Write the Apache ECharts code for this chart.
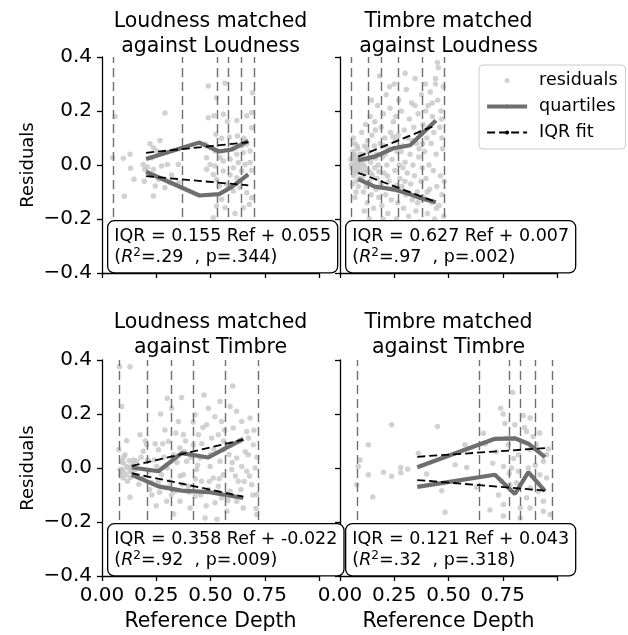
<!DOCTYPE html>
<html>
<head>
<meta charset="utf-8">
<script src="https://cdn.jsdelivr.net/npm/echarts@6/dist/echarts.min.js"></script>
<style>
html, body { margin: 0; padding: 0; background: #ffffff; }
#chart { width: 628px; height: 635px; }
</style>
</head>
<body>
<div id="chart"></div>
<script>
// ---- Panel titles ----
const panelTitles = [
  'Loudness matched\nagainst Loudness',
  'Timbre matched\nagainst Loudness',
  'Loudness matched\nagainst Timbre',
  'Timbre matched\nagainst Timbre'
];

// ---- Axis ticks ----
const xTicks = [0, 0.25, 0.5, 0.75, 1.0];
const yTicks = [-0.4, -0.2, 0.0, 0.2, 0.4];

// ---- Residuals: [reference depth, residual] ----
const tlResiduals = [
  [0.06,0.18],[0.049,0.027],[0.098,0.025],[0.129,0.04],[0.132,-0.012],[0.103,-0.116],
  [0.19,0.002],[0.198,-0.016],[0.147,-0.053],[0.195,-0.06],[0.221,0.079],[0.267,0.091],
  [0.237,0.064],[0.29,0.193],[0.209,-0.007],[0.237,-0.016],[0.246,-0.078],[0.237,-0.115],
  [0.224,-0.037],[0.275,-0.004],[0.301,0.002],[0.321,-0.037],[0.352,0.002],[0.352,-0.065],
  [0.26,-0.053],[0.313,-0.065],[0.29,-0.084],[0.252,0.052],[0.229,0.027],
  [0.49,0.293],[0.567,0.303],[0.694,0.268],[0.528,0.249],[0.49,0.175],[0.516,0.182],
  [0.559,0.188],[0.578,0.161],[0.621,0.165],[0.69,0.194],[0.667,0.182],[0.69,0.138],
  [0.525,0.114],[0.551,0.099],[0.587,0.104],[0.624,0.107],[0.654,0.099],[0.482,0.027],
  [0.498,0.002],[0.521,0.052],[0.544,0.027],[0.559,0.015],[0.59,0.021],[0.621,0.04],
  [0.651,0.046],[0.682,0.052],[0.682,0.009],[0.482,-0.016],[0.513,-0.035],[0.528,-0.053],
  [0.559,-0.022],[0.59,-0.037],[0.621,-0.047],[0.644,-0.022],[0.69,-0.02],[0.541,-0.078],
  [0.575,-0.072],[0.605,-0.096],[0.636,-0.084],[0.667,-0.103],[0.69,-0.121],[0.551,-0.127],
  [0.528,-0.152],[0.567,-0.158],[0.613,-0.18],[0.651,-0.158],[0.679,-0.146],[0.513,-0.195],
  [0.475,0.077],[0.505,0.064],[0.605,0.064],[0.644,0.07],[0.667,0.077],[0.628,0.009],
  [0.659,0.002],[0.605,-0.01],[0.521,-0.004]
];
const trResiduals = [
  [0.05,0.02],[0.055,-0.01],[0.06,0.05],[0.062,-0.04],[0.065,0.0],[0.068,0.08],[0.07,-0.02],
  [0.072,0.03],[0.075,-0.06],[0.078,0.01],[0.08,-0.03],[0.082,0.06],[0.085,-0.08],[0.087,0.02],
  [0.09,-0.01],[0.058,-0.07],[0.066,0.04],[0.074,-0.1],[0.079,0.07],[0.088,-0.05],[0.052,0.0],
  [0.061,0.1],[0.069,-0.12],[0.083,0.0],[0.092,0.04],[0.057,0.03],[0.076,-0.02],[0.064,-0.03],
  [0.10,0.12],[0.102,-0.05],[0.105,0.04],[0.108,-0.1],[0.11,0.0],[0.113,0.07],[0.115,-0.03],
  [0.118,0.15],[0.12,-0.08],[0.123,0.02],[0.126,-0.14],[0.128,0.09],[0.13,-0.02],[0.133,0.05],
  [0.136,-0.06],[0.139,0.18],[0.141,0.01],[0.144,-0.11],[0.147,0.11],[0.15,-0.04],[0.152,0.03],
  [0.155,-0.16],[0.158,0.07],[0.16,-0.01],[0.163,0.13],[0.166,-0.09],[0.168,0.04],[0.171,-0.05],
  [0.174,0.22],[0.176,0.0],[0.178,-0.12],[0.112,-0.17],[0.145,0.24],[0.16,0.16],[0.135,-0.2],
  [0.182,0.33],[0.185,0.08],[0.188,-0.07],[0.19,0.14],[0.193,-0.15],[0.196,0.03],[0.2,0.19],
  [0.203,-0.03],[0.206,0.1],[0.21,-0.11],[0.213,0.26],[0.216,0.0],[0.22,-0.18],[0.223,0.06],
  [0.226,-0.06],[0.23,0.21],[0.233,0.12],[0.236,-0.13],[0.24,0.02],[0.243,-0.09],[0.246,0.16],
  [0.25,0.3],[0.253,-0.02],[0.256,0.09],[0.26,-0.2],[0.263,0.05],[0.266,-0.14],[0.27,0.24],
  [0.273,0.0],[0.276,-0.05],[0.198,-0.2],[0.228,0.29],[0.258,0.18],[0.208,0.04],[0.268,0.11],
  [0.283,0.2],[0.286,-0.08],[0.29,0.07],[0.293,-0.16],[0.296,0.13],[0.3,0.01],[0.303,-0.11],
  [0.306,0.28],[0.31,-0.03],[0.313,0.1],[0.316,-0.19],[0.32,0.17],[0.323,0.04],[0.326,-0.07],
  [0.33,0.23],[0.333,-0.13],[0.336,0.0],[0.34,0.14],[0.343,-0.04],[0.346,0.32],[0.35,-0.17],
  [0.353,0.08],[0.356,-0.1],[0.36,0.19],[0.363,0.03],[0.366,-0.21],[0.37,0.12],[0.373,-0.06],
  [0.376,0.26],[0.379,-0.01],[0.3,0.34],[0.318,-0.22],[0.345,0.22],[0.365,0.06],[0.29,-0.01],
  [0.383,0.15],[0.386,-0.12],[0.39,0.05],[0.393,0.3],[0.396,-0.05],[0.4,0.1],[0.403,-0.18],
  [0.406,0.22],[0.41,0.0],[0.413,-0.09],[0.416,0.27],[0.42,0.08],[0.423,-0.14],[0.426,0.18],
  [0.43,-0.02],[0.433,0.12],[0.436,-0.2],[0.44,0.32],[0.443,0.04],[0.446,-0.08],[0.45,0.24],
  [0.453,0.36],[0.456,-0.15],[0.46,0.14],[0.463,-0.04],[0.466,0.2],[0.47,-0.11],[0.473,0.06],
  [0.476,0.29],[0.48,-0.06],[0.449,0.38],[0.44,0.3],[0.42,-0.22],[0.395,0.2],[0.47,0.1],
  [0.071,0.015],[0.081,-0.012],[0.094,0.008],[0.099,-0.022],[0.104,0.018],[0.117,-0.012],
  [0.125,0.06],[0.142,-0.03],[0.165,0.025],[0.18,-0.025],[0.201,0.07],[0.219,-0.04],
  [0.245,0.105],[0.262,-0.075],[0.281,0.05],[0.299,-0.06],[0.335,0.09],[0.358,-0.14],
  [0.381,0.08],[0.402,-0.1],[0.425,0.23],[0.445,-0.16],[0.468,0.17],[0.478,-0.19]
];
const blResiduals = [
  [0.080,0.375],[0.129,0.375],[0.091,0.228],[0.114,0.101],[0.078,0.068],[0.098,0.018],
  [0.114,0.006],[0.091,-0.006],[0.129,-0.012],[0.098,-0.037],[0.129,-0.108],[0.106,0.049],
  [0.144,0.012],[0.16,0.025],[0.19,0.062],[0.175,0.123],[0.206,0.086],[0.214,-0.012],
  [0.19,-0.037],[0.229,-0.055],[0.252,0.006],[0.275,-0.025],[0.26,0.068],[0.301,0.258],
  [0.321,0.221],[0.29,0.141],[0.306,0.098],[0.329,0.049],[0.313,-0.049],[0.336,-0.086],
  [0.298,-0.123],[0.367,0.261],[0.352,0.172],[0.375,0.123],[0.359,0.074],[0.39,0.025],
  [0.375,-0.025],[0.398,-0.068],[0.359,-0.123],[0.406,-0.148],[0.429,0.197],[0.444,0.123],
  [0.421,0.086],[0.452,0.037],[0.436,-0.006],[0.459,-0.049],[0.429,-0.105],[0.475,-0.185],
  [0.49,0.221],[0.482,0.16],[0.505,0.111],[0.498,0.006],[0.513,-0.037],[0.49,-0.08],
  [0.521,-0.129],[0.544,0.246],[0.551,0.172],[0.536,0.123],[0.559,0.068],[0.544,0.025],
  [0.559,-0.025],[0.536,-0.068],[0.551,-0.111],[0.602,0.304],[0.59,0.228],[0.605,0.148],
  [0.598,0.086],[0.621,0.037],[0.598,-0.006],[0.628,-0.049],[0.59,-0.086],[0.621,-0.123],
  [0.575,-0.16],[0.644,0.172],[0.667,0.135],[0.682,0.185],[0.697,0.086],[0.674,0.049],
  [0.705,0.0],[0.667,-0.012],[0.69,-0.062],[0.713,-0.098],[0.651,-0.148],[0.713,-0.172],
  [0.644,0.006],[0.083,-0.006],[0.098,-0.012],[0.121,0.0],[0.137,0.006],[0.091,0.025],
  [0.111,-0.025],[0.126,0.027],[0.141,-0.015],[0.086,-0.025],[0.117,-0.049],[0.1,0.04],
  [0.132,-0.035],[0.145,0.03],[0.155,-0.005],[0.2,0.1],[0.22,-0.08],[0.24,0.03],[0.26,-0.05],
  [0.28,0.09],[0.3,0.0],[0.32,-0.1],[0.34,0.13],[0.36,-0.03],[0.38,0.06],[0.4,-0.09],
  [0.42,0.17],[0.44,0.01],[0.46,0.09],[0.48,-0.14],[0.5,0.05],[0.52,0.19],[0.54,-0.04],
  [0.56,0.1],[0.58,-0.12],[0.6,0.02],[0.62,0.21],[0.64,-0.08],[0.66,0.06],[0.68,-0.03],
  [0.7,0.14],[0.71,-0.15],[0.25,-0.14],[0.27,0.2],[0.33,-0.17],[0.47,0.27],[0.53,-0.19],
  [0.17,-0.06],[0.18,0.04],[0.21,0.03],[0.23,-0.1],[0.245,0.09],[0.265,-0.09],[0.285,0.04],
  [0.31,-0.07],[0.345,0.02],[0.37,-0.06],[0.385,0.1],[0.41,0.04],[0.43,-0.04],[0.455,-0.1],
  [0.465,0.15],[0.495,-0.05],[0.515,0.07],[0.535,-0.09],[0.565,0.14],[0.585,0.05],
  [0.615,-0.03],[0.635,0.1],[0.655,-0.05],[0.675,0.11],[0.695,-0.1],[0.715,0.04]
];
const brResiduals = [
  [0.084,0.006],[0.077,-0.062],[0.092,0.03],[0.131,-0.025],[0.131,0.086],[0.151,-0.107],
  [0.2,-0.016],[0.238,-0.031],[0.238,0.16],[0.28,0.002],[0.28,-0.018],[0.312,-0.004],
  [0.361,0.055],[0.399,-0.022],[0.449,0.154],[0.469,-0.084],[0.484,-0.164],[0.53,0.012],
  [0.576,0.086],[0.584,0.002],[0.63,-0.071],[0.661,0.129],[0.691,-0.156],[0.704,0.018],
  [0.796,0.28],[0.74,0.221],[0.752,0.2],[0.845,0.194],[0.876,0.185],[0.806,0.16],
  [0.76,0.165],[0.86,0.135],[0.89,0.117],[0.776,0.086],[0.837,0.098],[0.905,0.086],
  [0.876,0.068],[0.822,0.049],[0.952,0.049],[0.937,0.025],[0.753,0.006],[0.791,0.0],
  [0.822,-0.012],[0.868,0.0],[0.921,-0.025],[0.952,-0.037],[0.745,-0.049],[0.783,-0.062],
  [0.814,-0.055],[0.876,-0.074],[0.914,-0.086],[0.937,-0.123],[0.753,-0.135],[0.83,-0.148],
  [0.876,-0.148],[0.937,-0.16],[0.753,-0.178],[0.83,-0.185],[0.968,-0.172],[0.72,0.06],
  [0.768,0.11],[0.8,0.035],[0.85,0.15],[0.9,0.01],[0.96,0.07],[0.73,-0.1],[0.86,-0.11],
  [0.67,0.09],[0.78,-0.02],[0.92,0.13]
];

// ---- Bin edges (vertical dashed lines) ----
const tlEdges = [0.049, 0.37, 0.53, 0.579, 0.639, 0.699];
const trEdges = [0.054, 0.130, 0.192, 0.272, 0.381, 0.481];
const blEdges = [0.080, 0.210, 0.316, 0.418, 0.570, 0.717];
const brEdges = [0.080, 0.637, 0.779, 0.829, 0.899, 0.978];

// ---- Quartile curves ----
const tlQuartX = [0.203, 0.449, 0.54, 0.60, 0.674];
const tlUpperQ = [0.022, 0.083, 0.050, 0.058, 0.089];
const tlLowerQ = [-0.025, -0.113, -0.108, -0.080, -0.035];
const trQuartX = [0.084, 0.160, 0.246, 0.323, 0.376, 0.442];
const trUpperQ = [0.018, 0.031, 0.062, 0.073, 0.114, 0.165];
const trLowerQ = [-0.052, -0.080, -0.090, -0.108, -0.124, -0.138];
const blQuartX = [0.137, 0.26, 0.367, 0.49, 0.651];
const blUpperQ = [0.002, -0.012, 0.055, 0.039, 0.108];
const blLowerQ = [-0.025, -0.068, -0.084, -0.089, -0.111];
const brQuartX = [0.356, 0.714, 0.806, 0.868, 0.945];
const brUpperQ = [0.003, 0.108, 0.110, 0.090, 0.040];
const brLowerQ = [-0.070, -0.025, -0.096, -0.015, -0.086];

// ---- IQR fits: [slope, intercept], centre line at both ends, R^2 and p ----
const tlFit = [0.155, 0.055];
const trFit = [0.627, 0.007];
const blFit = [0.358, -0.022];
const brFit = [0.121, 0.043];
const tlFitCentre = [0.002, 0.0045];
const trFitCentre = [0.001, 0.0055];
const blFitCentre = [-0.0055, -0.0005];
const brFitCentre = [-0.0015, -0.005];
const tlStats = ['.29', '.344'];
const trStats = ['.97', '.002'];
const blStats = ['.92', '.009'];
const brStats = ['.32', '.318'];

// ---------------------------------------------------------------
const FONT = 'DejaVu Sans';
const GREY = '#6e6e6e';
const DOT = '#c6c6c6';

const panels = [
  { res: tlResiduals, edges: tlEdges, qx: tlQuartX, up: tlUpperQ, lo: tlLowerQ, fit: tlFit, centre: tlFitCentre, stats: tlStats },
  { res: trResiduals, edges: trEdges, qx: trQuartX, up: trUpperQ, lo: trLowerQ, fit: trFit, centre: trFitCentre, stats: trStats },
  { res: blResiduals, edges: blEdges, qx: blQuartX, up: blUpperQ, lo: blLowerQ, fit: blFit, centre: blFitCentre, stats: blStats },
  { res: brResiduals, edges: brEdges, qx: brQuartX, up: brUpperQ, lo: brLowerQ, fit: brFit, centre: brFitCentre, stats: brStats }
];

// grid layout (pixels)
const gridLeft = [102, 340, 102, 340];
const gridTop = [57, 57, 360, 360];
const gridW = 217, gridH = 216;

const chart = echarts.init(document.getElementById('chart'), null, { renderer: 'canvas' });

const minus = v => (v < 0 ? '\u2212' : '') + Math.abs(v).toFixed(1);
const xFmt = v => (Math.abs(v - 1) < 1e-9 ? '' : v.toFixed(2));

const grids = [], xAxes = [], yAxes = [], series = [], titles = [], graphics = [];

panels.forEach((p, i) => {
  const bottomRow = i >= 2, leftCol = i % 2 === 0;
  grids.push({ left: gridLeft[i], top: gridTop[i], width: gridW, height: gridH, containLabel: false });

  xAxes.push({
    gridIndex: i, type: 'value', min: xTicks[0], max: xTicks[xTicks.length - 1], interval: 0.25,
    axisLine: { show: true, onZero: false, lineStyle: { color: '#000', width: 1.3 } },
    axisTick: { show: true, inside: false, length: 5, lineStyle: { color: '#000', width: 1.3 } },
    axisLabel: { show: bottomRow, formatter: xFmt, color: '#000', fontFamily: FONT, fontSize: 20, margin: 10 },
    splitLine: { show: false },
    name: bottomRow ? 'Reference Depth' : '', nameLocation: 'middle', nameGap: 35,
    nameTextStyle: { color: '#000', fontFamily: FONT, fontSize: 20.5 }
  });
  yAxes.push({
    gridIndex: i, type: 'value', min: yTicks[0], max: yTicks[yTicks.length - 1], interval: 0.2,
    axisLine: { show: true, onZero: false, lineStyle: { color: '#000', width: 1.3 } },
    axisTick: { show: true, inside: false, length: 5, lineStyle: { color: '#000', width: 1.3 } },
    axisLabel: { show: leftCol, formatter: minus, color: '#000', fontFamily: FONT, fontSize: 20, margin: 10 },
    splitLine: { show: false },
    name: leftCol ? 'Residuals' : '', nameLocation: 'middle', nameGap: 65, nameRotate: 90,
    nameTextStyle: { color: '#000', fontFamily: FONT, fontSize: 18 }
  });

  series.push({
    name: 'residuals', type: 'scatter', xAxisIndex: i, yAxisIndex: i,
    data: p.res, symbol: 'circle', symbolSize: 5.5,
    itemStyle: { color: DOT }, z: 2, silent: true, animation: false,
    markLine: {
      silent: true, symbol: ['none', 'none'], animation: false,
      label: { show: false },
      lineStyle: { type: [9, 5], color: GREY, width: 1.4 },
      emphasis: { disabled: true },
      data: p.edges.map(e => ({ xAxis: e }))
    }
  });
  [p.up, p.lo].forEach(q => {
    series.push({
      name: 'quartiles', type: 'line', xAxisIndex: i, yAxisIndex: i,
      data: p.qx.map((x, k) => [x, q[k]]), symbol: 'none', showSymbol: false,
      itemStyle: { color: GREY }, lineStyle: { color: GREY, width: 4.2 },
      z: 4, silent: true, animation: false
    });
  });
  const x0 = p.qx[0], x1 = p.qx[p.qx.length - 1];
  const iqr0 = p.fit[0] * x0 + p.fit[1], iqr1 = p.fit[0] * x1 + p.fit[1];
  [1, -1].forEach(sgn => {
    series.push({
      name: 'IQR fit', type: 'line', xAxisIndex: i, yAxisIndex: i,
      data: [[x0, p.centre[0] + sgn * iqr0 / 2], [x1, p.centre[1] + sgn * iqr1 / 2]],
      symbol: 'none', showSymbol: false,
      itemStyle: { color: '#000' }, lineStyle: { color: '#000', width: 1.8, type: [8, 4] },
      z: 5, silent: true, animation: false
    });
  });

  titles.push({
    text: panelTitles[i], left: gridLeft[i] + gridW / 2, top: bottomRow ? 310 : 9,
    textAlign: 'center', padding: 0,
    textStyle: { fontFamily: FONT, fontSize: 20.5, fontWeight: 'normal', color: '#000', lineHeight: 25 }
  });

  const sign = p.fit[1] < 0 ? '-' : '';
  graphics.push({
    type: 'text', left: gridLeft[i] + 5, top: gridTop[i] + 163, z: 100 + i,
    style: {
      text: 'IQR = ' + p.fit[0].toFixed(3) + ' Ref + ' + sign + Math.abs(p.fit[1]).toFixed(3) +
            '\n({it|R}{sup|2}=' + p.stats[0] + '  , p=' + p.stats[1] + ')',
      fontFamily: FONT, fontSize: 17.5, lineHeight: 21, fill: '#000',
      backgroundColor: '#fff', borderColor: '#000', borderWidth: 1.3, borderRadius: 6,
      padding: [5, 6, 4, 6],
      rich: {
        it: { fontFamily: FONT, fontSize: 17.5, fontStyle: 'italic', lineHeight: 21, fill: '#000' },
        sup: { fontFamily: FONT, fontSize: 12, lineHeight: 21, verticalAlign: 'top', padding: [0, 0, 8, 0], fill: '#000' }
      }
    }
  });
});

chart.setOption({
  animation: false,
  backgroundColor: '#fff',
  title: titles,
  grid: grids,
  xAxis: xAxes,
  yAxis: yAxes,
  legend: {
    left: 479, top: 65, orient: 'vertical',
    data: [
      { name: 'residuals', icon: 'circle' },
      { name: 'quartiles', lineStyle: { width: 4.2 } },
      { name: 'IQR fit', lineStyle: { width: 1.8 } }
    ],
    itemWidth: 40, itemHeight: 5, itemGap: 5,
    padding: [5, 8, 6, 6],
    backgroundColor: '#fff', borderColor: '#cccccc', borderWidth: 1, borderRadius: 4,
    selectedMode: false,
    textStyle: { fontFamily: FONT, fontSize: 17.5, color: '#000', lineHeight: 21, padding: [0, 0, 0, 7] },
    z: 20
  },
  series: series,
  graphic: graphics
});
</script>
</body>
</html>
